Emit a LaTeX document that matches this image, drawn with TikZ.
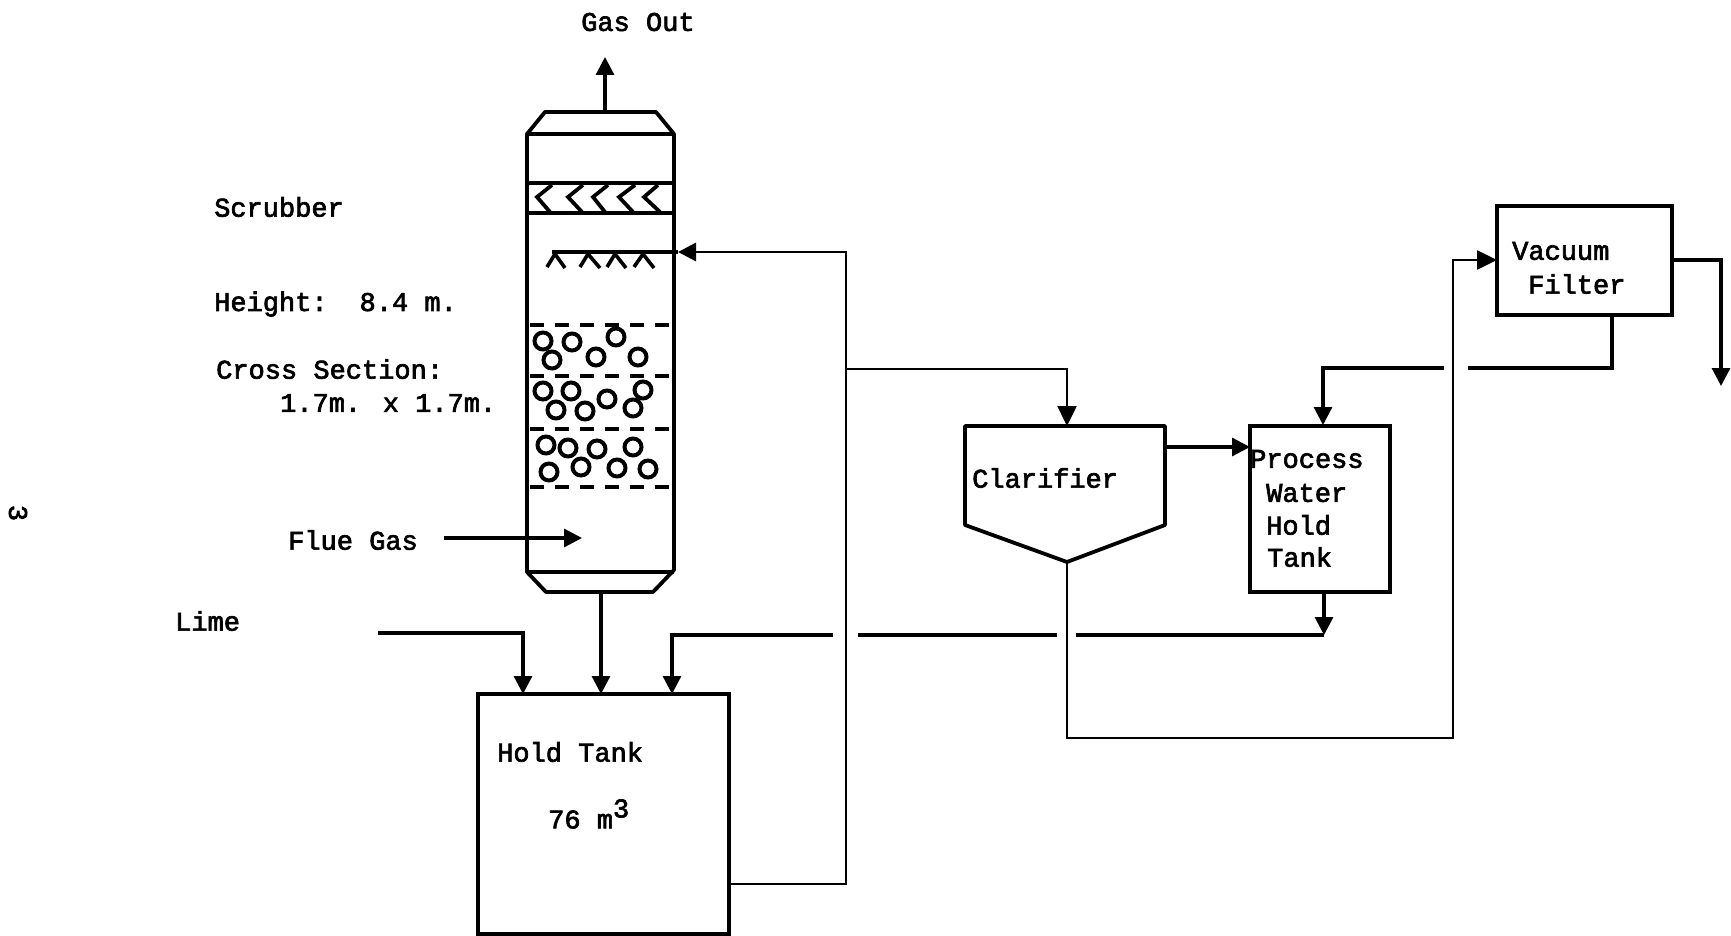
\documentclass[tikz,border=0pt]{standalone}
\usepackage{fontspec}
\setmainfont{Liberation Mono}[FakeBold=2.5]
\usetikzlibrary{arrows.meta,calc}
\tikzset{
  pipe/.style={line width=3.2pt,line join=miter},
  thinpipe/.style={line width=2.5pt,line join=miter},
  flow/.style={pipe,-{Triangle[length=18pt,width=18pt]}},
  thinflow/.style={thinpipe,-{Triangle[length=20pt,width=19pt]}},
  wall/.style={line width=3.8pt,line join=round},
  unit/.style={draw,line width=3.8pt,inner sep=0pt,outer sep=0pt},
  grid/.style={line width=3.2pt,dash pattern=on 14pt off 11pt},
  packing/.style={draw,circle,line width=4pt,inner sep=0pt,minimum size=17pt},
  lab/.style={anchor=west,inner sep=0pt,font=\fontsize{27}{27}\selectfont},
}
\begin{document}
\begin{tikzpicture}[x=1pt,y=-1pt]
\path[use as bounding box] (0,0) rectangle (1731,936);

% scrubber
\coordinate (sTop) at (604,112);
\coordinate (sBot) at (601,592);
\coordinate (sprayEnd) at (552,252);
\coordinate (sprayIn) at (678,252);
\coordinate (flueTip) at (582,538);
\draw[wall] (545,112) -- (656,112) -- (674,134) -- (674,570) -- (653,592) -- (546,592) -- (527,572) -- (527,134) -- cycle;
\draw[wall] (527,134) -- (674,134);
\draw[wall] (527,572) -- (674,572);
\draw[wall] (527,183) -- (674,183);
\draw[wall] (527,213) -- (674,213);
% mist eliminator chevrons
\foreach \tx/\ax/\bx in {537/552/550,568/583/582,593/608/605,619/635/633,644/658/660}
  \draw[line width=3.8pt] (\ax,185) -- (\tx,197) -- (\bx,212);
% spray nozzles
\foreach \px/\lx/\rx in {555/547/565,588/580/600,615/607/626,643/634/654}
  \draw[line width=3.6pt] (\lx,267) -- (\px,254) -- (\rx,268);
% packing grids
\foreach \gy in {325,376,429,487}
  \draw[grid] (530,\gy) -- (672,\gy);
% packing spheres
\foreach \cx/\cy in {543/341,572/342,552/360,596/357,616/337,638/357,
  543/391,571/391,556/410,585/411,607/399,643/390,633/408,
  546/445,568/448,597/449,633/447,549/472,581/467,617/468,648/469}
  \node[packing] at (\cx,\cy) {};

% units
\node[unit,minimum width=251pt,minimum height=240pt] (hold) at (603.5,814) {};
\node[unit,minimum width=140pt,minimum height=166pt] (proc) at (1320,509) {};
\node[unit,minimum width=175pt,minimum height=109pt] (filter) at (1584.5,260.5) {};
\coordinate (clarTop) at (1067,426);
\coordinate (clarIn) at (1165,447);
\coordinate (clarBot) at (1067,562);
\draw[wall] (965,426) -- (1165,426) -- (1165,525) -- (1067,562) -- (965,525) -- cycle;

% labels
\node[lab] (tGas) at (581,22) {Gas Out};
\node[lab] (tScrub) at (214,207) {Scrubber};
\node[lab] (tHeight) at (214,304) {Height:\hspace{32pt}8.4 m.};
\node[lab] (tCross) at (216,369) {Cross Section:};
\node[lab] (tSize) at (280,403) {1.7m. x 1.7m.};
\node[lab] (tFlue) at (288,540) {Flue Gas};
\node[lab] (tLime) at (175,621) {Lime};
\node[lab] (tHold) at (497,752) {Hold Tank};
\node[lab] (tVol) at (548,814) {76 m\raisebox{11pt}{3}};
\node[lab] (tClar) at (972,478) {Clarifier};
\node[lab] (tProc) at (1250,459) {Process};
\node[lab] (tWater) at (1266,493) {Water};
\node[lab] (tHoldB) at (1266,525) {Hold};
\node[lab] (tTank) at (1267,557) {Tank};
\node[lab] (tVac) at (1512,251) {Vacuum};
\node[lab] (tFilt) at (1528,284) {Filter};
\node[lab,anchor=center,rotate=-90] (tPage) at (18,513) {3};

% connectors
\coordinate (gasTip) at (605,57);
\draw[flow] (sTop -| gasTip) -- (gasTip);
\coordinate (flueStart) at (444,538);
\draw[flow] (flueStart) -- (flueTip);
\draw[flow] (sBot) -- (sBot |- hold.north);

\coordinate (limeStart) at (378,633);
\coordinate (limeDrop) at (523,633);
\draw[flow] (limeStart) -- (limeDrop) -- (limeDrop |- hold.north);

% recycle from hold tank to spray header and clarifier
\coordinate (holdOut) at (hold.east |- 0,884);
\coordinate (riser) at (846,884);
\draw[thinpipe] (holdOut) -- (riser) -- (riser |- sprayIn) -- (695,252);
\draw[flow] (695,252) -- (sprayIn);
\draw[pipe] (sprayIn) -- (sprayEnd);
\draw[thinflow] (riser |- 0,369) -- (clarTop |- 0,369) -- (clarTop);

% clarifier overflow
\draw[flow] (clarIn) -- (clarIn -| proc.west);

% process water return
\coordinate (procOut) at (1324,592);
\coordinate (ret) at (1324,635);
\coordinate (retDrop) at (672,635);
\draw[flow] (procOut) -- (ret);
\draw[pipe] (ret) -- (1076,635);
\draw[pipe] (1057,635) -- (858,635);
\draw[flow] (833,635) -- (retDrop) -- (retDrop |- hold.north);

% clarifier underflow to vacuum filter
\coordinate (under) at (1067,738);
\coordinate (underUp) at (1453,738);
\coordinate (filtIn) at (filter.west |- 0,260);
\draw[thinflow] (clarBot) -- (under) -- (underUp) -- (underUp |- filtIn) -- (filtIn);

% filtrate to process water tank
\coordinate (filtBot) at (1612,315);
\draw[pipe] (filtBot) -- (1612,368) -- (1468,368);
\draw[flow] (1444,368) -- (1323,368) -- (1323,425);

% filter cake out
\coordinate (cakeOut) at (filter.east |- 0,260);
\coordinate (cakeTip) at (1721,386);
\draw[flow] (cakeOut) -- (cakeTip |- cakeOut) -- (cakeTip);
\end{tikzpicture}
\end{document}
